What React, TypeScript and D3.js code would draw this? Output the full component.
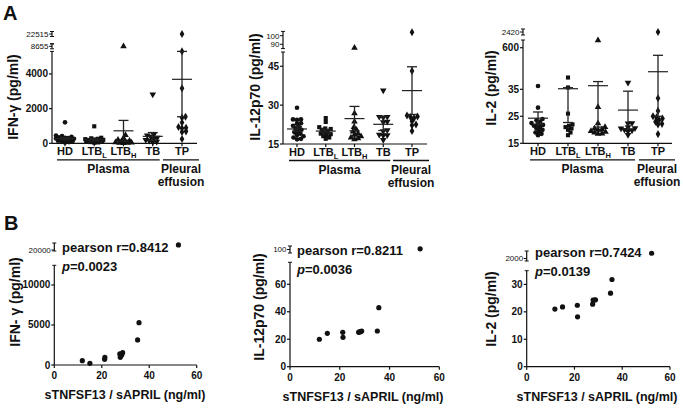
import React from "react";
import * as d3 from "d3";

const FONT = "'Liberation Sans', Arial, Helvetica, sans-serif";
const INK = "#111";

// groups on the x axis of panel A
const groups = ["HD", "LTBL", "LTBH", "TB", "TP"];
const groupMain = ["HD", "LTB", "LTB", "TB", "TP"];
const groupSub = ["", "L", "H", "", ""];

// A: IFN-γ (pg/ml) per group
const ifnValues = [
  [1210, 450, 420, 380, 350, 320, 300, 280, 260, 240, 220, 200, 180, 150, 120, 100, 70, 40],
  [980, 320, 290, 260, 240, 220, 200, 190, 170, 150, 130, 110, 90, 70, 50, 30],
  [8655, 480, 300, 200, 150, 120, 90, 60, 40, 30, 20, 10],
  [2820, 500, 450, 380, 320, 260, 200, 150, 100, 60],
  [22515, 5340, 3170, 1530, 1480, 1200, 940, 900, 870, 690, 650, 250],
];
const ifnMean = [270, 200, 720, 400, 3690];
const ifnLo = [200, 140, 120, 180, 1530];
const ifnHi = [340, 260, 1320, 620, 5850];
const ifnTicks = [0, 2000, 4000];
const ifnBreakTicks = [8655, 22515];

// A: IL-12p70 (pg/ml)
const il12Values = [
  [29, 24.5, 24.5, 24.3, 23, 22.8, 22, 21.5, 21, 20.5, 20, 19.5, 19, 18.5, 18, 17.5, 17, 16.8],
  [25, 23.5, 21.5, 21, 20.8, 20.5, 20, 19.5, 19, 18.8, 18.5, 18, 17.5, 17],
  [86, 26.8, 23.6, 21.5, 20.5, 19.8, 19, 18.5, 18, 17.5, 17.2, 16.8],
  [35.7, 25.5, 25.5, 25.3, 23.6, 23.4, 20.3, 20, 18.6, 18.4, 18.3, 16.6],
  [104, 43.2, 26, 25.6, 25.4, 25, 23.8, 22.5, 22.2, 20],
];
const il12Mean = [20.8, 20.0, 24.8, 22.6, 35.6];
const il12Lo = [19.9, 19.3, 20.1, 20.2, 26.4];
const il12Hi = [21.7, 20.7, 29.5, 25.6, 44.8];
const il12Ticks = [15, 30, 45];
const il12BreakTicks = [90, 100];

// A: IL-2 (pg/ml)
const il2Values = [
  [80, 28.2, 24, 23.5, 23, 22.5, 22, 21.8, 21.5, 21, 20.5, 20, 19.5, 19, 18.5, 18],
  [195, 60, 26, 22, 21.5, 21, 20.5, 20, 19, 18],
  [700, 28.4, 22.4, 21, 20.5, 20.2, 20, 19.5, 19.2, 19, 18.6, 18.5],
  [125, 22.5, 22.4, 21, 20.6, 20.5, 20, 19.8, 19.5, 18.1],
  [2420, 31.7, 27, 25, 24.6, 24.2, 23.6, 23, 22.2, 22, 18.4],
];
const il2Mean = [24.3, 43, 84, 27.3, 274];
const il2Lo = [22, 22.7, 21, 20.3, 25];
const il2Hi = [26.6, 57, 140, 34.3, 497];
const il2Ticks = [15, 25, 35, 600];
const il2BreakTicks = [2420];

// B: correlation with sTNFSF13 / sAPRIL (ng/ml)
const april = [11.8, 15, 21.2, 21.3, 27.6, 27.8, 28.4, 28.8, 35.1, 35.7, 52.3];
const ifnB = [540, 210, 710, 960, 1380, 960, 1250, 1540, 3130, 5290, 22515];
const il12B = [20, 24.3, 25, 21.4, 25, 25.3, 25.5, 26, 26, 43, 101];
const il2B = [21, 21.8, 22.4, 18.2, 22.8, 24.3, 24.3, 24.4, 26.8, 31.8, 2420];
const aprilTicks = [0, 20, 40, 60];
const ifnBTicks = [0, 5000, 10000];
const il12BTicks = [0, 20, 40, 60];
const il2BTicks = [0, 10, 20, 30];

type Seg = { d: [number, number]; r: [number, number] };

const pieceScale = (segs: Seg[]) => {
  const sc = segs.map((s) => d3.scaleLinear().domain(s.d).range(s.r));
  return (v: number) => {
    for (let i = 0; i < segs.length; i++) {
      if (v <= segs[i].d[1]) {
        if (v < segs[i].d[0] && i > 0) return segs[i - 1].r[1];
        return sc[i](v);
      }
    }
    return sc[segs.length - 1](v);
  };
};

// deterministic beeswarm offsets
function swarm(ys: number[], d: number, maxW: number) {
  const order = ys.map((_, i) => i).sort((a, b) => ys[b] - ys[a]);
  const placed: { x: number; y: number }[] = [];
  const out: number[] = new Array(ys.length).fill(0);
  for (const i of order) {
    const py = ys[i];
    let best = 0;
    let bestScore = -1;
    for (let k = 0; k <= maxW * 4; k++) {
      const cand = k === 0 ? 0 : (k % 2 ? 1 : -1) * Math.ceil(k / 2) * 0.5;
      if (Math.abs(cand) > maxW) break;
      const md = placed.length ? d3.min(placed, (q) => Math.hypot(q.x - cand, q.y - py))! : 99;
      if (md >= d) { best = cand; bestScore = md; break; }
      if (md > bestScore) { bestScore = md; best = cand; }
    }
    placed.push({ x: best, y: py });
    out[i] = best;
  }
  return out;
}

const symbolFor = [
  d3.symbol().type(d3.symbolCircle).size(17)(),
  d3.symbol().type(d3.symbolSquare).size(17)(),
  d3.symbol().type(d3.symbolTriangle).size(19)(),
  d3.symbol().type(d3.symbolTriangle).size(19)(),
  d3.symbol().type(d3.symbolDiamond).size(19)(),
];

function YAxis({ segs, ax, ticks, smallTicks }: { segs: Seg[]; ax: number; ticks: number[]; smallTicks: number[] }) {
  const y = pieceScale(segs);
  const caps: number[] = [];
  segs.forEach((s, i) => {
    const next = segs[i + 1];
    const prev = segs[i - 1];
    if (next && next.r[0] !== s.r[1]) caps.push(s.r[1]);
    if (prev && prev.r[1] !== s.r[0]) { caps.push(s.r[0]); caps.push(s.r[1]); }
  });
  return (
    <g>
      {segs.map((s, i) => (
        <line key={i} x1={ax} x2={ax} y1={s.r[0]} y2={s.r[1]} stroke={INK} strokeWidth={1.2} />
      ))}
      {caps.map((c, i) => (
        <line key={"c" + i} x1={ax - 2} x2={ax + 2} y1={c} y2={c} stroke={INK} strokeWidth={1} />
      ))}
      {ticks.map((t) => (
        <g key={t}>
          <line x1={ax - 3} x2={ax} y1={y(t)} y2={y(t)} stroke={INK} strokeWidth={1.2} />
          <text x={ax - 4} y={y(t)} dy="0.35em" textAnchor="end" fontSize={10} fontWeight="bold" fill={INK}>{t}</text>
        </g>
      ))}
      {smallTicks.map((t) => (
        <g key={t}>
          <line x1={ax - 3} x2={ax} y1={y(t)} y2={y(t)} stroke={INK} strokeWidth={1} />
          <text x={ax - 3.5} y={y(t)} dy="0.35em" textAnchor="end" fontSize={8} fill={INK}>{t}</text>
        </g>
      ))}
    </g>
  );
}

type DotProps = {
  ax: number; xEnd: number; catRange: [number, number]; segs: Seg[];
  values: number[][]; mean: number[]; lo: number[]; hi: number[];
  ticks: number[]; smallTicks: number[]; ylabel: string; lx: number; ly: number;
  spread: number;
};

function DotPanel(p: DotProps) {
  const y = pieceScale(p.segs);
  const x = d3.scalePoint<string>().domain(groups).range(p.catRange);
  const base = p.segs[0].r[0];
  const gy = base + 16.5;
  const plasmaA = x("HD")! - 8;
  const plasmaB = x("TB")! + 7;
  const tp = x("TP")!;
  return (
    <g>
      <line x1={p.ax} x2={p.xEnd} y1={base} y2={base} stroke={INK} strokeWidth={1.2} />
      <YAxis segs={p.segs} ax={p.ax} ticks={p.ticks} smallTicks={p.smallTicks} />
      {groups.map((g, gi) => {
        const cx = x(g)!;
        const ys = p.values[gi].map((v) => y(v));
        const offs = swarm(ys, 3.6, p.spread);
        return (
          <g key={g}>
            <line x1={cx} x2={cx} y1={base} y2={base + 3} stroke={INK} strokeWidth={1.2} />
            <text x={cx} y={base + 12} textAnchor="middle" fontSize={11} fontWeight="bold" fill={INK}>
              {groupMain[gi]}
              {groupSub[gi] && <tspan fontSize={7.5} dy={2.5}>{groupSub[gi]}</tspan>}
            </text>
            {ys.map((py, i) => (
              <path key={i} d={symbolFor[gi]!} fill={INK}
                transform={`translate(${cx + offs[i]},${py})${gi === 3 ? " rotate(180)" : ""}`} />
            ))}
            <line x1={cx} x2={cx} y1={y(p.lo[gi])} y2={y(p.hi[gi])} stroke="#222" strokeWidth={1.3} />
            <line x1={cx - 5} x2={cx + 5} y1={y(p.lo[gi])} y2={y(p.lo[gi])} stroke="#222" strokeWidth={1.3} />
            <line x1={cx - 5} x2={cx + 5} y1={y(p.hi[gi])} y2={y(p.hi[gi])} stroke="#222" strokeWidth={1.3} />
            <line x1={cx - 10} x2={cx + 10} y1={y(p.mean[gi])} y2={y(p.mean[gi])} stroke="#222" strokeWidth={1.2} />
          </g>
        );
      })}
      <line x1={plasmaA} x2={plasmaB} y1={gy} y2={gy} stroke={INK} strokeWidth={1.3} />
      <line x1={tp - 19} x2={tp + 17} y1={gy} y2={gy} stroke={INK} strokeWidth={1.3} />
      <text x={(plasmaA + plasmaB) / 2} y={gy + 13} textAnchor="middle" fontSize={12} fontWeight="bold" fill={INK}>Plasma</text>
      <text x={tp - 1} y={gy + 13} textAnchor="middle" fontSize={12} fontWeight="bold" fill={INK}>Pleural</text>
      <text x={tp - 1} y={gy + 26} textAnchor="middle" fontSize={12} fontWeight="bold" fill={INK}>effusion</text>
      <text transform={`translate(${p.lx},${p.ly}) rotate(-90)`} textAnchor="middle" dy="0.35em" fontSize={14} fontWeight="bold" fill={INK}>{p.ylabel}</text>
    </g>
  );
}

type ScatterProps = {
  ax: number; xEnd: number; segs: Seg[]; xs: number[]; ys: number[];
  ticks: number[]; smallTicks: number[]; ylabel: string; lx: number; ly: number;
  xlx: number; r: string; pv: string; tx: number; ty: number;
};

function ScatterPanel(p: ScatterProps) {
  const y = pieceScale(p.segs);
  const x = d3.scaleLinear().domain([0, 60]).range([p.ax, p.xEnd]);
  const base = p.segs[0].r[0];
  return (
    <g>
      <line x1={p.ax} x2={p.xEnd} y1={base} y2={base} stroke={INK} strokeWidth={1.2} />
      <YAxis segs={p.segs} ax={p.ax} ticks={p.ticks} smallTicks={p.smallTicks} />
      {aprilTicks.map((t) => (
        <g key={t}>
          <line x1={x(t)} x2={x(t)} y1={base} y2={base + 3} stroke={INK} strokeWidth={1.2} />
          <text x={x(t)} y={base + 14} textAnchor="middle" fontSize={10} fontWeight="bold" fill={INK}>{t}</text>
        </g>
      ))}
      {p.xs.map((v, i) => (
        <circle key={i} cx={x(v)} cy={y(p.ys[i])} r={2.6} fill={INK} />
      ))}
      <text x={p.tx} y={p.ty} fontSize={13} fontWeight="bold" fill={INK}>{p.r}</text>
      <text x={p.tx} y={p.ty + 19} fontSize={13} fontWeight="bold" fill={INK}>
        <tspan fontStyle="italic">p</tspan>{p.pv}
      </text>
      <text x={p.xlx} y={base + 34} textAnchor="middle" fontSize={12.5} fontWeight="bold" fill={INK}>sTNFSF13 / sAPRIL (ng/ml)</text>
      <text transform={`translate(${p.lx},${p.ly}) rotate(-90)`} textAnchor="middle" dy="0.35em" fontSize={14} fontWeight="bold" fill={INK}>{p.ylabel}</text>
    </g>
  );
}

export default function App() {
  return (
    <svg width={683} height={408} viewBox="0 0 683 408"
      style={{ position: "absolute", left: 0, top: 0, background: "#fff", fontFamily: FONT }}>
      <text x={3} y={20} fontSize={20} fontWeight="bold" fill={INK}>A</text>
      <text x={4} y={230} fontSize={20} fontWeight="bold" fill={INK}>B</text>

      <DotPanel ax={52} xEnd={197} catRange={[65, 182]}
        segs={[{ d: [0, 5300], r: [143.3, 51.4] }, { d: [8355, 8955], r: [48.8, 43.8] }, { d: [22215, 22815], r: [36.5, 31.5] }]}
        values={ifnValues} mean={ifnMean} lo={ifnLo} hi={ifnHi}
        ticks={ifnTicks} smallTicks={ifnBreakTicks} ylabel="IFN-γ (pg/ml)" lx={13} ly={97} spread={9} />

      <DotPanel ax={283} xEnd={427} catRange={[297, 412]}
        segs={[{ d: [15, 50.5], r: [144, 52] }, { d: [85, 105], r: [48.6, 31.4] }]}
        values={il12Values} mean={il12Mean} lo={il12Lo} hi={il12Hi}
        ticks={il12Ticks} smallTicks={il12BreakTicks} ylabel="IL-12p70 (pg/ml)" lx={255} ly={87} spread={8} />

      <DotPanel ax={523} xEnd={672} catRange={[538, 658]}
        segs={[{ d: [15, 35], r: [143.3, 89.3] }, { d: [35, 705], r: [89.3, 40] }, { d: [2300, 2540], r: [35, 29] }]}
        values={il2Values} mean={il2Mean} lo={il2Lo} hi={il2Hi}
        ticks={il2Ticks} smallTicks={il2BreakTicks} ylabel="IL-2 (pg/ml)" lx={491} ly={88} spread={8} />

      <ScatterPanel ax={54.3} xEnd={196.7}
        segs={[{ d: [0, 12460], r: [365, 265.3] }, { d: [19500, 23500], r: [251, 243] }]}
        xs={april} ys={ifnB} ticks={ifnBTicks} smallTicks={[20000]}
        ylabel="IFN- γ (pg/ml)" lx={15} ly={302} xlx={125}
        r="pearson r=0.8412" pv="=0.0023" tx={62} ty={252} />

      <ScatterPanel ax={290} xEnd={439.3}
        segs={[{ d: [0, 76], r: [366.7, 262.3] }, { d: [95, 105], r: [253, 246] }]}
        xs={april} ys={il12B} ticks={il12BTicks} smallTicks={[100]}
        ylabel="IL-12p70 (pg/ml)" lx={259} ly={307} xlx={363}
        r="pearson r=0.8211" pv="=0.0036" tx={297} ty={255} />

      <ScatterPanel ax={526.7} xEnd={670}
        segs={[{ d: [0, 35], r: [366.7, 270.7] }, { d: [1800, 2600], r: [261, 251] }]}
        xs={april} ys={il2B} ticks={il2BTicks} smallTicks={[2000]}
        ylabel="IL-2 (pg/ml)" lx={491} ly={309} xlx={597}
        r="pearson r=0.7424" pv="=0.0139" tx={535} ty={257} />
    </svg>
  );
}
